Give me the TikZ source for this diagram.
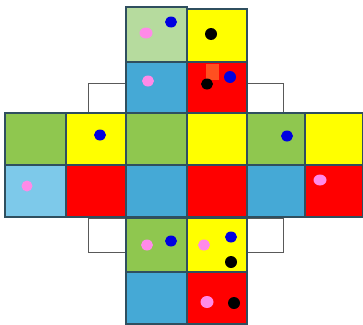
\documentclass[tikz,border=0pt]{standalone}
\begin{document}
\begin{tikzpicture}[x=1pt,y=-1pt,
  cell/.style={draw=edgec,line width=1.3pt},
  blank/.style={draw=gray!70!black,fill=white,line width=1pt},
  pdot/.style={fill=pinkd,draw=none},
  bdot/.style={fill=blued,draw=none},
  kdot/.style={fill=black,draw=none}]
\definecolor{edgec}{HTML}{2F4F5F}
\definecolor{lgreen}{HTML}{B6DB9E}
\definecolor{greenc}{HTML}{8FC74F}
\definecolor{bluec}{HTML}{45A9D6}
\definecolor{lbluec}{HTML}{7DC9EA}
\definecolor{redc}{HTML}{FF0000}
\definecolor{yellowc}{HTML}{FFFF00}
\definecolor{pinkd}{HTML}{FF8AE8}
\definecolor{blued}{HTML}{0000E0}
\definecolor{orangep}{HTML}{FF5020}
\useasboundingbox (0,0) rectangle (363,324);
% white flaps
\draw[blank] (88,83) rectangle (126,113);
\draw[blank] (247,83) rectangle (283,113);
\draw[blank] (88,218) rectangle (126,252);
\draw[blank] (247,218) rectangle (283,252);
% top column
\draw[cell,fill=lgreen] (126,7) rectangle (187,62);
\draw[cell,fill=yellowc] (187,9) rectangle (247,62);
\draw[cell,fill=bluec] (126,62) rectangle (187,113);
\draw[cell,fill=redc] (187,62) rectangle (247,113);
% middle band row 1
\draw[cell,fill=greenc] (5,113) rectangle (66,165);
\draw[cell,fill=yellowc] (66,113) rectangle (126,165);
\draw[cell,fill=greenc] (126,113) rectangle (187,165);
\draw[cell,fill=yellowc] (187,113) rectangle (247,165);
\draw[cell,fill=greenc] (247,113) rectangle (305,165);
\draw[cell,fill=yellowc] (305,113) rectangle (363,165);
% middle band row 2
\draw[cell,fill=lbluec] (5,165) rectangle (66,217);
\draw[cell,fill=redc] (66,165) rectangle (126,217);
\draw[cell,fill=bluec] (126,165) rectangle (187,217);
\draw[cell,fill=redc] (187,165) rectangle (247,217);
\draw[cell,fill=bluec] (247,165) rectangle (305,217);
\draw[cell,fill=redc] (305,165) rectangle (363,217);
% bottom column
\draw[cell,fill=greenc] (126,218) rectangle (187,272);
\draw[cell,fill=yellowc] (187,218) rectangle (247,272);
\draw[cell,fill=bluec] (126,272) rectangle (187,324);
\draw[cell,fill=redc] (187,272) rectangle (247,324);
% dots
\fill[bdot] (171,22) ellipse (6 and 5.5);
\fill[pdot] (146,33) ellipse (6.5 and 5.5);
\fill[kdot] (211,34) ellipse (6 and 6);
\fill[pdot] (148,81) ellipse (6 and 5.5);
\fill[orangep] (206,64) rectangle (219,80);
\fill[bdot] (230,77) ellipse (6 and 6);
\fill[kdot] (207,84) ellipse (6 and 5.5);
\fill[bdot] (100,135) ellipse (6 and 5.5);
\fill[pdot] (27,186) ellipse (5.5 and 5.5);
\fill[bdot] (287,136) ellipse (6 and 5.5);
\fill[pdot] (320,180) ellipse (6.5 and 5.5);
\fill[pdot] (147,245) ellipse (6 and 5.5);
\fill[bdot] (171,241) ellipse (6 and 5.5);
\fill[pdot] (204,245) ellipse (6 and 5.5);
\fill[bdot] (231,237) ellipse (6 and 5.5);
\fill[kdot] (231,262) ellipse (6 and 6);
\fill[pdot] (207,302) ellipse (6.5 and 6);
\fill[kdot] (234,303) ellipse (6 and 6);
\end{tikzpicture}
\end{document}
